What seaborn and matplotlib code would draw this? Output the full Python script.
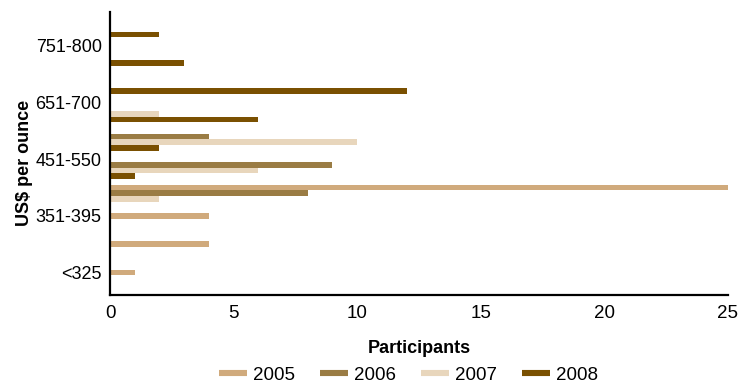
import matplotlib
matplotlib.use("Agg")
import matplotlib.pyplot as plt
from matplotlib.lines import Line2D
import seaborn as sns
import pandas as pd

# price bands, top to bottom as drawn
price_bands = [">800", "751-800", "701-750", "651-700", "551-650",
               "451-550", "396-450", "351-395", "326-350", "<325"]
shown_labels = {"751-800", "651-700", "451-550", "351-395", "<325"}
years = ["2005", "2006", "2007", "2008"]
colors = ["#D0AA7C", "#9A7C44", "#E8D6BC", "#7A5001"]

p2005 = [0, 0, 0, 0, 0, 0, 25, 4, 4, 1]
p2006 = [0, 0, 0, 0, 4, 9, 8, 0, 0, 0]
p2007 = [0, 0, 0, 2, 10, 6, 2, 0, 0, 0]
p2008 = [2, 3, 12, 6, 2, 1, 0, 0, 0, 0]

rows = []
for year, vals in zip(years, [p2005, p2006, p2007, p2008]):
    for band, v in zip(price_bands, vals):
        rows.append({"band": band, "year": year, "participants": v})
df = pd.DataFrame(rows)

sns.set_style("white")
plt.rcParams["font.family"] = ["Liberation Sans", "DejaVu Sans"]
plt.rcParams["text.color"] = "black"
plt.rcParams["xtick.color"] = "black"
plt.rcParams["ytick.color"] = "black"
plt.rcParams["axes.labelcolor"] = "black"

fig = plt.figure(figsize=(7.38, 3.83), dpi=100)
ax = fig.add_axes([110 / 738, 1 - 295 / 383, 618 / 738, 283 / 383])

sns.barplot(data=df, x="participants", y="band", hue="year", order=price_bands,
            hue_order=years, palette=colors, saturation=1, width=0.8,
            linewidth=0, orient="h", legend=False, ax=ax)

ax.set_xlim(0, 25)
ax.set_xticks([0, 5, 10, 15, 20, 25])
ax.tick_params(axis="x", direction="in", length=5, width=1.5, labelsize=13.5,
               pad=7)
ax.tick_params(axis="y", length=0, labelsize=13, pad=6)

pos = [i - 0.3 for i, b in enumerate(price_bands) if b in shown_labels]
labs = [b for b in price_bands if b in shown_labels]
ax.set_yticks(pos)
ax.set_yticklabels(labs)

for side in ["top", "right"]:
    ax.spines[side].set_visible(False)
for side in ["left", "bottom"]:
    ax.spines[side].set_color("black")
    ax.spines[side].set_linewidth(1.6)

bold = {"weight": "bold", "size": 13}
ax.set_xlabel("Participants", fontdict=bold, labelpad=13)
ax.set_ylabel("US$ per ounce", fontdict=bold)
ax.yaxis.set_label_coords(-0.124, 0.465)

handles = [Line2D([0], [0], color=c, lw=4.4, solid_capstyle="butt") for c in colors]
fig.legend(handles, years, loc="center", bbox_to_anchor=(0.5535, 0.021),
           ncol=4, frameon=False, fontsize=13.5, handlelength=1.5,
           handletextpad=0.35, columnspacing=1.3, borderpad=0, borderaxespad=0)

fig.savefig("out.png", dpi=100)
